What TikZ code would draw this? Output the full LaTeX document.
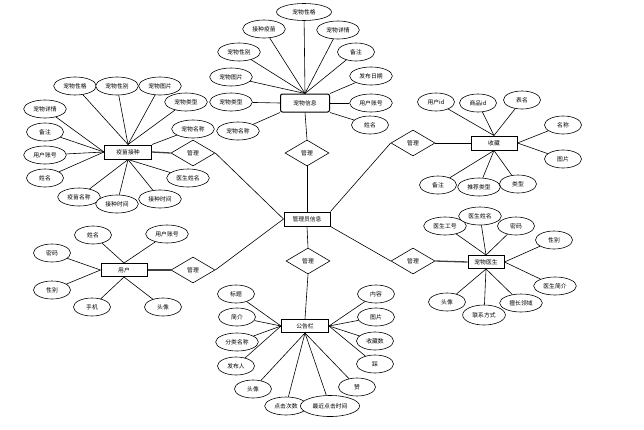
\documentclass[tikz,border=0pt]{standalone}
\usepackage{fontspec}
\setmainfont{Noto Sans CJK SC}
\usetikzlibrary{shapes.geometric}
\begin{document}
\begin{tikzpicture}[x=1pt,y=-1pt,
  font=\fontsize{5.8}{7}\selectfont,
  ent/.style={draw=black,line width=1pt,rectangle,inner sep=0pt,minimum width=46pt,minimum height=14pt,fill=white},
  attr/.style={draw=black,line width=0.6pt,ellipse,inner xsep=3.5pt,inner ysep=0pt,minimum width=37pt,minimum height=18pt,fill=white},
  rel/.style={draw=black,line width=0.6pt,diamond,inner sep=0pt,minimum width=44pt,minimum height=26pt,fill=white},
  conn/.style={line width=0.6pt,black},
  thickconn/.style={line width=1.3pt,black!75}]
\useasboundingbox (0,0) rectangle (644,429);

% connectors drawn first (background)
\coordinate (dummy) at (0,0);

% entities
\node[ent] (ad) at (307,219) {管理员信息};
\node[ent,rounded corners=2pt,minimum width=49pt,minimum height=18pt] (pet) at (305,103) {宠物信息};
\node[ent,minimum width=47pt] (vac) at (128,152) {疫苗接种};
\node[ent] (fav) at (494,143) {收藏};
\node[ent,minimum width=36pt,minimum height=13pt] (doc) at (486,262) {宠物医生};
\node[ent,minimum height=13pt] (usr) at (124,270) {用户};
\node[ent,minimum width=47pt,minimum height=13pt] (ntc) at (305,326) {公告栏};

% relationships
\node[rel] (d1) at (307,153) {管理};
\node[rel] (d2) at (308,261) {管理};
\node[rel] (d3) at (413,143) {管理};
\node[rel] (d4) at (413,261) {管理};
\node[rel] (d5) at (193,153) {管理};
\node[rel] (d6) at (193,270) {管理};

% pet attributes
\node[attr,minimum width=55pt,minimum height=17pt] (p1) at (304,12) {宠物性格};
\node[attr] (p2) at (264,29) {接种疫苗};
\node[attr] (p3) at (338,30) {宠物详情};
\node[attr] (p4) at (239,52) {宠物性别};
\node[attr] (p5) at (356,52) {备注};
\node[attr] (p6) at (231,77) {宠物图片};
\node[attr] (p7) at (371,76) {发布日期};
\node[attr] (p8) at (231,102) {宠物类型};
\node[attr] (p9) at (371,103) {用户账号};
\node[attr] (p10) at (238,131) {宠物名称};
\node[attr] (p11) at (370,125) {姓名};

% vaccine attributes
\node[attr] (v1) at (75,86) {宠物性格};
\node[attr] (v2) at (117,86) {宠物性别};
\node[attr] (v3) at (160,86) {宠物图片};
\node[attr] (v4) at (45,109) {宠物详情};
\node[attr] (v5) at (186,102) {宠物类型};
\node[attr] (v6) at (45,132) {备注};
\node[attr] (v7) at (193,129) {宠物名称};
\node[attr] (v8) at (45,155) {用户账号};
\node[attr] (v9) at (45,178) {姓名};
\node[attr] (v10) at (188,178) {医生姓名};
\node[attr] (v11) at (79,197) {疫苗名称};
\node[attr] (v12) at (117,204) {接种时间};
\node[attr] (v13) at (160,199) {接种时间};

% favourite attributes
\node[attr] (f1) at (436,102) {用户id};
\node[attr] (f2) at (478,103) {商品id};
\node[attr] (f3) at (522,100) {表名};
\node[attr] (f4) at (563,125) {名称};
\node[attr] (f5) at (563,159) {图片};
\node[attr] (f6) at (438,185) {备注};
\node[attr] (f7) at (479,187) {推荐类型};
\node[attr] (f8) at (518,184) {类型};

% doctor attributes
\node[attr] (c1) at (445,226) {医生工号};
\node[attr] (c2) at (480,216) {医生姓名};
\node[attr] (c3) at (516,226) {密码};
\node[attr] (c4) at (554,240) {性别};
\node[attr] (c5) at (555,286) {医生简介};
\node[attr] (c6) at (521,303) {擅长领域};
\node[attr,minimum height=20pt] (c7) at (484,315) {联系方式};
\node[attr] (c8) at (447,302) {头像};

% user attributes
\node[attr] (u1) at (93,235) {姓名};
\node[attr] (u2) at (167,234) {用户账号};
\node[attr] (u3) at (52,253) {密码};
\node[attr] (u4) at (52,290) {性别};
\node[attr] (u5) at (92,307) {手机};
\node[attr] (u6) at (163,307) {头像};

% notice attributes
\node[attr] (n1) at (236,294) {标题};
\node[attr] (n2) at (237,317) {简介};
\node[attr] (n3) at (237,342) {分类名称};
\node[attr] (n4) at (236,366) {发布人};
\node[attr] (n5) at (253,389) {头像};
\node[attr] (n6) at (286,406) {点击次数};
\node[attr,minimum height=21pt] (n7) at (330,406) {最近点击时间};
\node[attr] (n8) at (376,294) {内容};
\node[attr] (n9) at (376,317) {图片};
\node[attr] (n10) at (375,341) {收藏数};
\node[attr] (n11) at (375,364) {踩};
\node[attr] (n12) at (357,387) {赞};

% relationship connectors
\draw[conn] (ad.north) -- (d1.south);
\draw[conn] (d1.north) -- (pet.south);
\draw[conn] (ad.south) -- (d2.north);
\draw[conn] (d2.south) -- (ntc.north);
\draw[conn] (ad.north east) -- (d3.west);
\draw[conn] (d3.east) -- (fav.west);
\draw[conn] (ad.south east) -- (d4.west);
\draw[thickconn] (d4.east) -- (doc.west);
\draw[conn] (ad.west) -- (d5.east);
\draw[thickconn] (d5.west) -- (vac.east);
\draw[conn] (ad.west) -- (d6.east);
\draw[thickconn] (d6.west) -- (usr.east);

% pet connectors
\foreach \a in {p1,p2,p3,p4,p5,p6} \draw[conn] (pet.north) -- (\a);
\draw[conn] (pet.west) -- (p8);
\draw[conn] (pet.south west) -- (p10);
\draw[conn] (pet.north east) -- (p7);
\draw[conn] (pet.east) -- (p9);
\draw[conn] (pet.south east) -- (p11);

% vaccine connectors
\foreach \a in {v1,v2,v3,v5} \draw[conn] (vac.north) -- (\a);
\foreach \a in {v4,v6,v8,v9} \draw[conn] (vac.west) -- (\a);
\draw[conn] (vac.north east) -- (v7);
\foreach \a in {v10,v11,v12,v13} \draw[conn] (vac.south) -- (\a);

% favourite connectors
\foreach \a in {f1,f2,f3} \draw[conn] (fav.north) -- (\a);
\foreach \a in {f4,f5} \draw[conn] (fav.east) -- (\a);
\foreach \a in {f6,f7,f8} \draw[conn] (fav.south) -- (\a);

% doctor connectors
\foreach \a in {c1,c2,c3} \draw[conn] (doc.north) -- (\a);
\foreach \a in {c4,c5} \draw[conn] (doc.east) -- (\a);
\foreach \a in {c6,c7,c8} \draw[conn] (doc.south) -- (\a);

% user connectors
\foreach \a in {u1,u2} \draw[conn] (usr.north) -- (\a);
\foreach \a in {u3,u4} \draw[conn] (usr.west) -- (\a);
\foreach \a in {u5,u6} \draw[conn] (usr.south) -- (\a);

% notice connectors
\foreach \a in {n1,n2,n3,n4} \draw[conn] (ntc.west) -- (\a);
\foreach \a in {n8,n9,n10,n11} \draw[conn] (ntc.east) -- (\a);
\foreach \a in {n5,n6,n7,n12} \draw[conn] (ntc.south) -- (\a);
\end{tikzpicture}
\end{document}
